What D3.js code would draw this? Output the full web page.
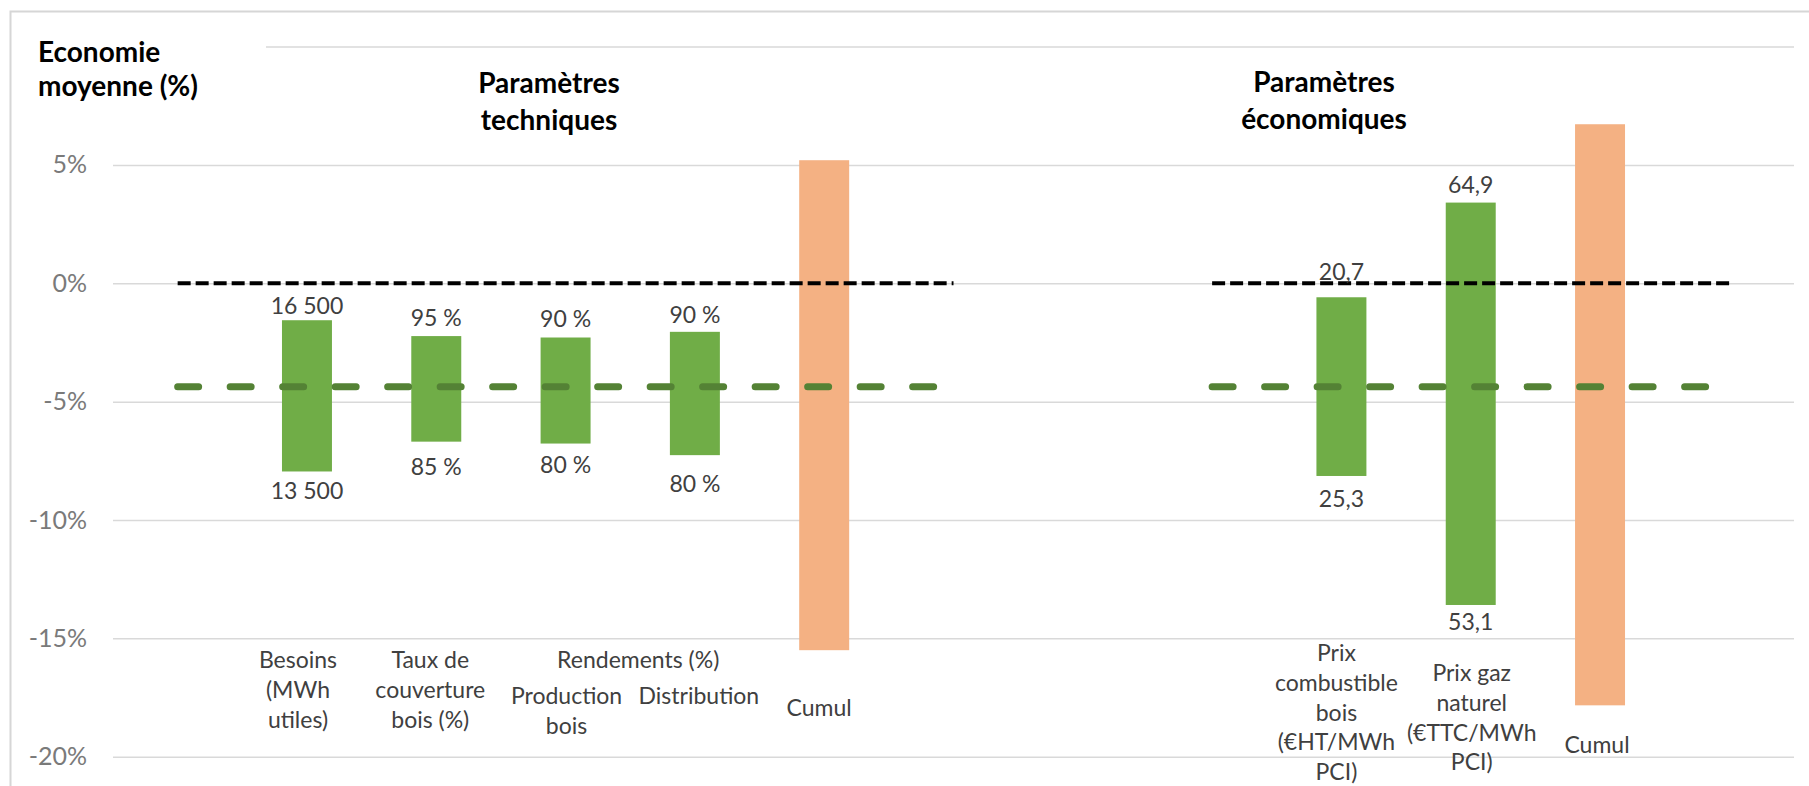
<!DOCTYPE html>
<html lang="fr">
<head>
<meta charset="utf-8">
<title>Economie moyenne</title>
<script src="https://cdn.jsdelivr.net/npm/d3@7"></script>
<style>
  body { margin: 0; background: #fff; }
  svg { display: block; font-family: Lato, "Open Sans", sans-serif; }
</style>
</head>
<body>
<div id="wrapper"></div>
<script>
// slots of the category axis, the "vide" ones are empty spaces
const slots = ["vide1", "besoins", "taux", "production", "distribution", "cumulTech",
  "vide2", "vide3", "vide4", "prixBois", "prixGaz", "cumulEco", "vide5"];

// one bar per parameter : range of the average saving (%)
const barKeys = ["besoins", "taux", "production", "distribution", "cumulTech", "prixBois", "prixGaz", "cumulEco"];
const barHigh = [-1.56, -2.23, -2.29, -2.05, 5.2, -0.59, 3.41, 6.72];
const barLow = [-7.95, -6.69, -6.77, -7.26, -15.5, -8.14, -13.59, -17.83];
const barKind = ["param", "param", "param", "param", "cumul", "param", "param", "cumul"];
const labelHigh = ["16 500", "95 %", "90 %", "90 %", "", "20,7", "64,9", ""];
const labelLow = ["13 500", "85 %", "80 %", "80 %", "", "25,3", "53,1", ""];
const categoryLines = [
  ["Besoins", "(MWh", "utiles)"],
  ["Taux de", "couverture", "bois (%)"],
  ["Production", "bois"],
  ["Distribution"],
  ["Cumul"],
  ["Prix", "combustible", "bois", "(€HT/MWh", "PCI)"],
  ["Prix gaz", "naturel", "(€TTC/MWh", "PCI)"],
  ["Cumul"]
];
const subGroupLabel = "Rendements (%)";
const subGroupKeys = ["production", "distribution"];

// y axis
const yTicks = [10, 5, 0, -5, -10, -15, -20];
const yDomain = [-20, 10];

// reference lines : reference case (0) and average saving
const zeroLevel = 0;
const meanLevel = -4.37;
const lineSpans = [["vide1", "vide2"], ["vide4", "vide5"]];

const axisTitle = ["Economie", "moyenne (%)"];
const groupTitles = [["Paramètres", "techniques"], ["Paramètres", "économiques"]];

function drawChart() {
  //1. dimensions
  let dimensions = {
    width: 1809,
    height: 786,
    margin: { top: 46.6, right: 15, bottom: 29.3, left: 113 },
  };
  dimensions.boundedWidth = dimensions.width - dimensions.margin.left - dimensions.margin.right;
  dimensions.boundedHeight = dimensions.height - dimensions.margin.top - dimensions.margin.bottom;

  const colors = {
    param: "#70ad47",
    cumul: "#f4b183",
    mean: "#548235",
    zero: "#000000",
    grid: "#d9d9d9",
    tick: "#7a7a7a",
    text: "#404040",
  };

  // hand placed text boxes of the category labels (dx from the bar centre, first baseline)
  const labelLayout = {
    besoins: { dx: -9, y: 668 },
    taux: { dx: -6, y: 668 },
    production: { dx: 1, y: 704 },
    distribution: { dx: 4, y: 704 },
    cumulTech: { dx: -5, y: 716 },
    prixBois: { dx: -5, y: 661 },
    prixGaz: { dx: 1, y: 681 },
    cumulEco: { dx: -3, y: 753 },
  };
  // gap between the bar ends and the value labels (they were moved by hand)
  const valueGap = {
    besoins: { high: 6, low: 28 },
    taux: { high: 10, low: 33 },
    production: { high: 10, low: 29 },
    distribution: { high: 9, low: 37 },
    prixBois: { high: 17, low: 31 },
    prixGaz: { high: 10, low: 25 },
  };

  //2. canvas
  const wrapper = d3.select("#wrapper")
    .append("svg")
    .attr("width", dimensions.width)
    .attr("height", dimensions.height);

  // chart area border (goes out of the picture on the right and bottom)
  wrapper.append("rect")
    .attr("x", 10.5)
    .attr("y", 11.5)
    .attr("width", 1840)
    .attr("height", 820)
    .attr("fill", "none")
    .attr("stroke", "#d6d6d6")
    .attr("stroke-width", 2);

  const bounds = wrapper.append("g")
    .attr("transform", `translate(${dimensions.margin.left},${dimensions.margin.top})`);

  //3. scales
  const xScale = d3.scaleBand()
    .domain(slots)
    .range([0, dimensions.boundedWidth])
    .paddingInner(0.6135)
    .paddingOuter(0.30675);

  const yScale = d3.scaleLinear()
    .domain(yDomain)
    .range([dimensions.boundedHeight, 0]);

  const center = (k) => xScale(k) + xScale.bandwidth() / 2;

  //4. y axis with gridlines
  const yAxisGenerator = d3.axisLeft(yScale)
    .tickValues(yTicks)
    .tickSize(-dimensions.boundedWidth)
    .tickPadding(26)
    .tickFormat((d) => (d === 10 ? "" : `${d}%`));

  const yAxis = bounds.append("g").call(yAxisGenerator);
  yAxis.select(".domain").remove();
  yAxis.selectAll(".tick line")
    .attr("stroke", colors.grid)
    .attr("stroke-width", 1.5);
  yAxis.selectAll(".tick text")
    .attr("fill", colors.tick)
    .style("font-size", "25px")
    .style("font-family", "Lato, sans-serif");

  //5. bars
  const bars = barKeys.map((k, i) => ({
    key: k, high: barHigh[i], low: barLow[i], kind: barKind[i],
    top: labelHigh[i], bottom: labelLow[i], lines: categoryLines[i],
  }));

  bounds.selectAll("rect.bar")
    .data(bars)
    .enter()
    .append("rect")
    .attr("class", "bar")
    .attr("x", (d) => xScale(d.key))
    .attr("y", (d) => yScale(d.high))
    .attr("width", xScale.bandwidth())
    .attr("height", (d) => yScale(d.low) - yScale(d.high))
    .attr("fill", (d) => colors[d.kind]);

  //6. reference lines (on top of the bars)
  const lineGenerator = d3.line()
    .x((d) => center(d))
    .y(() => 0);

  lineSpans.forEach((span) => {
    bounds.append("path")
      .attr("d", lineGenerator(span))
      .attr("transform", `translate(0,${yScale(meanLevel)})`)
      .attr("fill", "none")
      .attr("stroke", colors.mean)
      .attr("stroke-width", 7)
      .attr("stroke-linecap", "round")
      .attr("stroke-dasharray", "21 31.5");

    bounds.append("path")
      .attr("d", lineGenerator(span))
      .attr("transform", `translate(0,${yScale(zeroLevel)})`)
      .attr("fill", "none")
      .attr("stroke", colors.zero)
      .attr("stroke-width", 4)
      .attr("stroke-dasharray", "13 5");
  });

  //7. value labels above and below the bars
  bounds.selectAll("text.high")
    .data(bars.filter((d) => d.top))
    .enter()
    .append("text")
    .attr("class", "high")
    .attr("x", (d) => center(d.key))
    .attr("y", (d) => yScale(d.high) - valueGap[d.key].high)
    .attr("text-anchor", "middle")
    .attr("fill", colors.text)
    .style("font-size", "23px")
    .text((d) => d.top);

  bounds.selectAll("text.low")
    .data(bars.filter((d) => d.bottom))
    .enter()
    .append("text")
    .attr("class", "low")
    .attr("x", (d) => center(d.key))
    .attr("y", (d) => yScale(d.low) + valueGap[d.key].low)
    .attr("text-anchor", "middle")
    .attr("fill", colors.text)
    .style("font-size", "23px")
    .text((d) => d.bottom);

  //8. category labels
  const catLabels = wrapper.append("g")
    .selectAll("text")
    .data(bars)
    .enter()
    .append("text")
    .attr("text-anchor", "middle")
    .attr("fill", colors.text)
    .style("font-size", "23px")
    .attr("x", (d) => dimensions.margin.left + center(d.key) + labelLayout[d.key].dx)
    .attr("y", (d) => labelLayout[d.key].y);

  catLabels.selectAll("tspan")
    .data((d) => d.lines.map((l) => ({ text: l, parent: d })))
    .enter()
    .append("tspan")
    .attr("x", (d) => dimensions.margin.left + center(d.parent.key) + labelLayout[d.parent.key].dx)
    .attr("dy", (d, i) => (i === 0 ? 0 : 29.8))
    .text((d) => d.text);

  wrapper.append("text")
    .attr("x", dimensions.margin.left + d3.mean(subGroupKeys, center) + 8)
    .attr("y", 668)
    .attr("text-anchor", "middle")
    .attr("fill", colors.text)
    .style("font-size", "23px")
    .text(subGroupLabel);

  //9. axis title with its white box hiding the top gridline
  wrapper.append("rect")
    .attr("x", 30)
    .attr("y", 28)
    .attr("width", 236)
    .attr("height", 78)
    .attr("fill", "#fff");

  wrapper.append("text")
    .attr("x", 38)
    .attr("y", 62)
    .attr("fill", "#000")
    .style("font-size", "28px")
    .style("font-weight", "bold")
    .selectAll("tspan")
    .data(axisTitle)
    .enter()
    .append("tspan")
    .attr("x", 38)
    .attr("dy", (d, i) => (i === 0 ? 0 : 34))
    .text((d) => d);

  //10. group titles
  const titlePos = [{ x: 549, y: 93 }, { x: 1324, y: 92 }];
  groupTitles.forEach((lines, j) => {
    wrapper.append("text")
      .attr("x", titlePos[j].x)
      .attr("y", titlePos[j].y)
      .attr("text-anchor", "middle")
      .attr("fill", "#000")
      .style("font-size", "28px")
      .style("font-weight", "bold")
      .selectAll("tspan")
      .data(lines)
      .enter()
      .append("tspan")
      .attr("x", titlePos[j].x)
      .attr("dy", (d, i) => (i === 0 ? 0 : 36.5))
      .text((d) => d);
  });
}

drawChart();
</script>
</body>
</html>
